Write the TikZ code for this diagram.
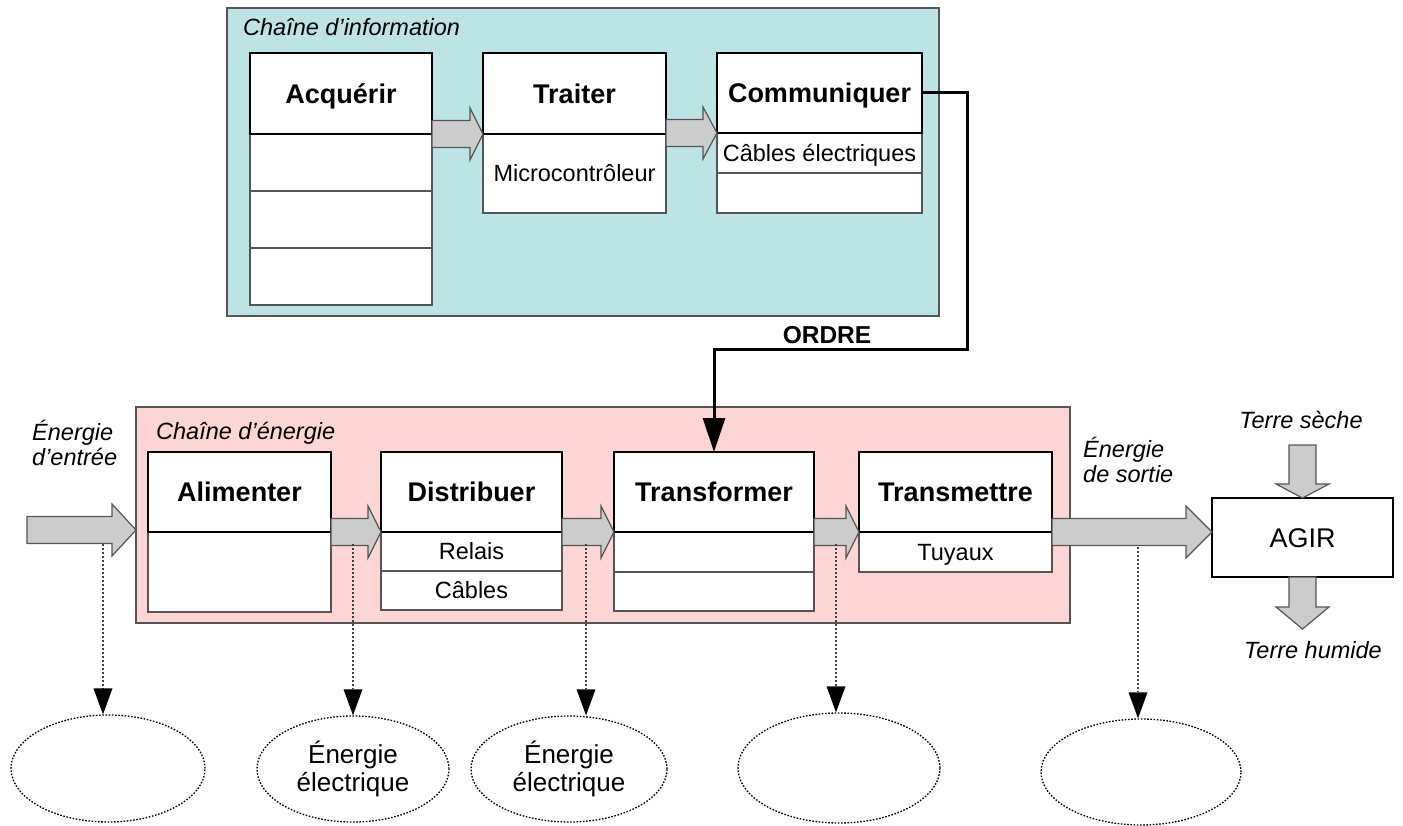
\documentclass[tikz,border=0pt]{standalone}
\usepackage{fontspec}
\setmainfont{Liberation Sans}
\usetikzlibrary{arrows.meta,calc,shapes.geometric}
\definecolor{infobg}{HTML}{BCE4E4}
\definecolor{enbg}{HTML}{FCD5D4}
\definecolor{arrgray}{HTML}{CCCCCC}
\definecolor{edgegray}{HTML}{555555}
\newcommand{\hbarrow}[3]{\path[barrow] let \p1=(#1), \p2=(#2) in ({\x1},{\y2+13.5pt}) -- ({\x2-#3},{\y2+13.5pt}) -- ({\x2-#3},{\y2+26pt}) -- (\p2) -- ({\x2-#3},{\y2-26pt}) -- ({\x2-#3},{\y2-13.5pt}) -- ({\x1},{\y2-13.5pt}) -- cycle;}
\newcommand{\vbarrow}[3]{\path[barrow] let \p1=(#1), \p2=(#2) in ({\x2-13.5pt},{\y1}) -- ({\x2-13.5pt},{\y2+#3}) -- ({\x2-26.5pt},{\y2+#3}) -- (\p2) -- ({\x2+26.5pt},{\y2+#3}) -- ({\x2+13.5pt},{\y2+#3}) -- ({\x2+13.5pt},{\y1}) -- cycle;}
\begin{document}
\begin{tikzpicture}[x=1pt,y=-1pt,
  cont/.style={draw=edgegray, line width=1.5pt, inner sep=0pt, outer sep=0pt},
  hdr/.style={draw=black, line width=2.5pt, fill=white, inner sep=0pt, outer sep=0pt, minimum height=80pt, text height=19.4pt, text depth=0pt, font=\fontsize{27}{32}\selectfont\bfseries},
  sub/.style={draw=edgegray, line width=1.5pt, fill=white, inner sep=0pt, outer sep=0pt, text height=16.8pt, text depth=0pt, font=\fontsize{23.5}{28}\selectfont},
  ital/.style={inner sep=0pt, font=\fontsize{23.5}{25}\selectfont\itshape},
  barrow/.style={draw=edgegray, line width=1.2pt, fill=arrgray, line join=miter},
  dots/.style={draw=black!75, line width=1.5pt, dash pattern=on 2pt off 2pt, -{Triangle[width=19pt,length=26pt,fill=black,line width=0pt]}},
  oval/.style={ellipse, draw=black, line width=1.3pt, dash pattern=on 1.6pt off 1.6pt, inner sep=0pt, align=center, font=\fontsize{26}{28}\selectfont},
  ordre/.style={draw=black, line width=3pt, -{Triangle[width=22pt,length=34pt]}}
]
\useasboundingbox (0,0) rectangle (1403,826);
% containers
\node[cont, fill=infobg, anchor=north west, minimum width=712pt, minimum height=308pt] (ich) at (227,8) {};
\node[cont, fill=enbg, anchor=north west, minimum width=934pt, minimum height=216pt] (ech) at (136,407) {};
\node[ital, anchor=base west] (ichl) at (243,36) {Chaîne d’information};
\node[ital, anchor=base west] (echl) at (156,439) {Chaîne d’énergie};
% information chain
\node[hdr, minimum width=182pt, minimum height=81pt, anchor=north west] (acqH) at (250,53) {Acquérir};
\node[sub, minimum width=182pt, minimum height=57pt, anchor=north] (acq1) at (acqH.south) {};
\node[sub, minimum width=182pt, minimum height=57pt, anchor=north] (acq2) at (acq1.south) {};
\node[sub, minimum width=182pt, minimum height=57pt, anchor=north] (acq3) at (acq2.south) {};
\node[hdr, minimum width=183pt, minimum height=81pt, anchor=north west] (traH) at (483,53) {Traiter};
\node[sub, minimum width=183pt, minimum height=79pt, anchor=north] (tra1) at (traH.south) {Microcontrôleur};
\node[hdr, minimum width=205pt, minimum height=80pt, anchor=north west] (comH) at (717,53) {Communiquer};
\node[sub, minimum width=205pt, minimum height=40pt, anchor=north] (com1) at (comH.south) {Câbles électriques};
\node[sub, minimum width=205pt, minimum height=40pt, anchor=north] (com2) at (com1.south) {};
% energy chain
\node[hdr, minimum width=183pt, anchor=north west] (aliH) at (148,452) {Alimenter};
\node[sub, minimum width=183pt, minimum height=80pt, anchor=north] (ali1) at (aliH.south) {};
\node[hdr, minimum width=181pt, anchor=north west] (disH) at (381,452) {Distribuer};
\node[sub, minimum width=181pt, minimum height=39pt, anchor=north] (dis1) at (disH.south) {Relais};
\node[sub, minimum width=181pt, minimum height=39pt, anchor=north] (dis2) at (dis1.south) {Câbles};
\node[hdr, minimum width=200pt, anchor=north west] (tfmH) at (614,452) {Transformer};
\node[sub, minimum width=200pt, minimum height=40pt, anchor=north] (tfm1) at (tfmH.south) {};
\node[sub, minimum width=200pt, minimum height=39pt, anchor=north] (tfm2) at (tfm1.south) {};
\node[hdr, minimum width=193pt, anchor=north west] (tmtH) at (859,452) {Transmettre};
\node[sub, minimum width=193pt, minimum height=40pt, anchor=north] (tmt1) at (tmtH.south) {Tuyaux};
% re-stroke header outlines
\foreach \n in {acqH,traH,comH,aliH,disH,tfmH,tmtH}
  \draw[line width=2.5pt] (\n.south west) rectangle (\n.north east);
% AGIR
\node[draw=black, line width=2.5pt, fill=white, minimum width=181pt, minimum height=79pt, inner sep=0pt, outer sep=0pt, text height=19.4pt, text depth=0pt, anchor=north west, font=\fontsize{27}{32}\selectfont] (agir) at (1212,498) {AGIR};
% block arrows in chains
\hbarrow{acqH.south east}{traH.south west}{13pt}
\hbarrow{traH.south east}{comH.south west}{14pt}
\hbarrow{aliH.south east}{disH.south west}{13pt}
\hbarrow{disH.south east}{tfmH.south west}{13pt}
\hbarrow{tfmH.south east}{tmtH.south west}{13pt}
% input / output
\coordinate (inS) at (27,530);
\coordinate (inT) at (ech.west |- inS);
\hbarrow{inS}{inT}{24pt}
\coordinate (outT) at (agir.west |- tmtH.south east);
\hbarrow{tmtH.south east}{outT}{26pt}
\node[ital, anchor=base west, align=left] (inL) at (32,465) {Énergie\\d’entrée};
\node[ital, anchor=base west, align=left] (outL) at (1083,482) {Énergie\\de sortie};
% AGIR in/out
\node[ital, anchor=base] (tsL) at (1301,428) {Terre sèche};
\coordinate (tsS) at (1300,445);
\vbarrow{tsS}{agir.north}{14pt}
\coordinate (thT) at ($(agir.south)+(0,52)$);
\vbarrow{agir.south}{thT}{22pt}
\node[ital, anchor=base] (thL) at (1313,658) {Terre humide};
% ORDRE
\coordinate (oc) at (967,349);
\draw[ordre] (comH.east) -| (oc) -| (tfmH.north);
\node[inner sep=0pt, anchor=base, font=\fontsize{24.5}{28}\selectfont\bfseries] (ordL) at (827,344) {ORDRE};
% ellipses
\node[oval, minimum width=194pt, minimum height=107pt] (e1) at (108,768.5) {};
\node[oval, minimum width=192pt, minimum height=106pt] (e2) at (353,769) {Énergie\\électrique};
\node[oval, minimum width=196pt, minimum height=106pt] (e3) at (569,769) {Énergie\\électrique};
\node[oval, minimum width=202pt, minimum height=110pt] (e4) at (839,768) {};
\node[oval, minimum width=200pt, minimum height=106pt] (e5) at (1141,772) {};
\coordinate (s1) at (103,544);
\coordinate (s2) at (353,544);
\coordinate (s3) at (586,544);
\coordinate (s4) at (836,544);
\coordinate (s5) at (1138,547);
\draw[dots] (s1) -- (s1 |- e1.north);
\draw[dots] (s2) -- (s2 |- e2.north);
\draw[dots] (s3) -- (s3 |- e3.north);
\draw[dots] (s4) -- (s4 |- e4.north);
\draw[dots] (s5) -- (s5 |- e5.north);
\end{tikzpicture}
\end{document}
